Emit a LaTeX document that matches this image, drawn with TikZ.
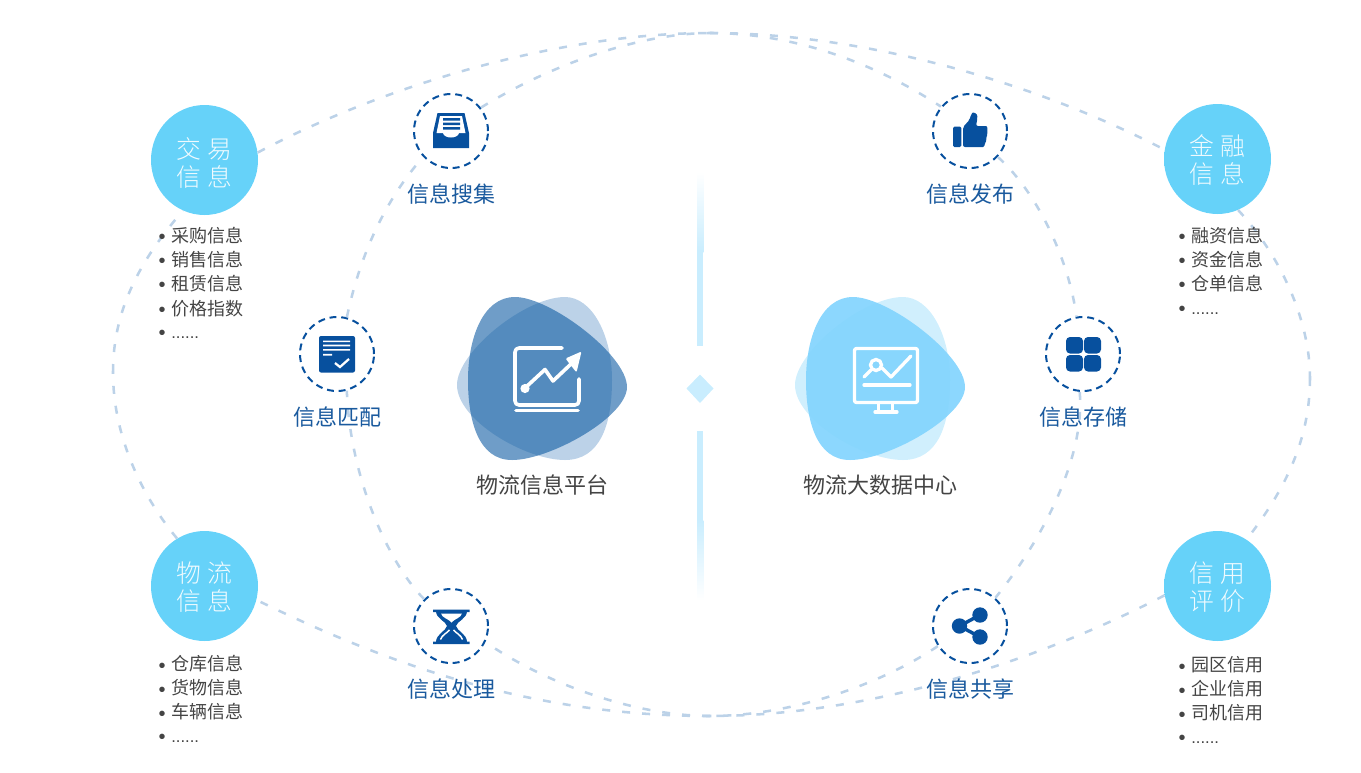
\documentclass[tikz,border=0pt]{standalone}
\usepackage{fontspec}
\usetikzlibrary{shapes.geometric}
\setmainfont{Noto Sans CJK SC}
\newfontfamily\latinf{Liberation Sans}
\newfontfamily\thincjk{Noto Sans CJK SC Light}
\definecolor{dashc}{HTML}{BCD2E8}
\definecolor{navy}{HTML}{07509E}
\definecolor{labelc}{HTML}{1A5A9E}
\definecolor{greyt}{HTML}{444444}
\definecolor{pale}{HTML}{C9EDFE}
\definecolor{bubin}{HTML}{66D2F9}
\definecolor{bubmid}{HTML}{BAEAFB}
\definecolor{bubout}{HTML}{C2EDFC}
\definecolor{blobdark}{RGB}{15,92,163}
\definecolor{blobsky}{RGB}{130,212,254}
\definecolor{blobpale}{RGB}{208,239,253}
\pgfdeclareradialshading{bubshade}{\pgfpoint{0bp}{0bp}}{
 color(0bp)=(bubin);
 color(33bp)=(bubin);
 color(44bp)=(bubmid);
 color(50bp)=(bubout);
 color(100bp)=(bubout)}
\tikzset{
 px/.style={x=0.75pt,y=-0.75pt},
 bubble/.style={ellipse,minimum width=80.25pt,minimum height=82.5pt,inner sep=0pt,shading=bubshade},
 bubtext/.style={text=white,text opacity=.9,align=center,inner sep=0pt,font=\thincjk\fontsize{18.6}{21}\selectfont},
 ring/.style={circle,minimum size=55.5pt,inner sep=0pt,draw=navy,line width=1.5pt,dash pattern=on 5.2pt off 3.6pt},
 link/.style={draw=dashc,line width=1.9pt,dash pattern=on 6pt off 9pt},
 label/.style={text=labelc,anchor=base,inner sep=0pt,font=\fontsize{16.5}{20}\selectfont},
 title/.style={text=greyt,anchor=base,inner sep=0pt,font=\fontsize{16.5}{20}\selectfont},
 item/.style={text=greyt,anchor=base west,inner sep=0pt,font=\fontsize{13.5}{16}\selectfont},
 dots/.style={text=greyt,anchor=base west,inner sep=0pt,font=\latinf\fontsize{12.5}{16}\selectfont},
 bulletmark/.style={text=greyt,anchor=base,inner sep=0pt,font=\latinf\fontsize{15}{16}\selectfont},
 wline/.style={draw=white,line width=2.7pt,line cap=round,line join=round},
}
\newcommand{\spaced}[2]{#1\hspace{4.5pt}#2}
\begin{document}
\begin{tikzpicture}[px]
\useasboundingbox (0,0) rectangle (1361,772);
% waypoints
\coordinate (top) at (710,33);
\coordinate (bot) at (710,716);
\coordinate (lft) at (113,372);
\coordinate (rgt) at (1310,378);
% big bubbles
\node[bubble] (jy) at (204.5,160) {};
\node[bubble] (jr) at (1217.5,159) {};
\node[bubble] (wl) at (204.5,586) {};
\node[bubble] (xy) at (1217.5,586) {};
\node[bubtext] (jyt) at (204.5,163) {\spaced{交}{易}\\\spaced{信}{息}};
\node[bubtext] (jrt) at (1217.5,160) {\spaced{金}{融}\\\spaced{信}{息}};
\node[bubtext] (wlt) at (204.5,587) {\spaced{物}{流}\\\spaced{信}{息}};
\node[bubtext] (xyt) at (1217.5,587) {\spaced{信}{用}\\\spaced{评}{价}};
% rings
\node[ring] (ss) at (451,131) {};
\node[ring] (fb) at (970,131) {};
\node[ring] (pp) at (337,354) {};
\node[ring] (cc) at (1083,354) {};
\node[ring] (cl) at (451,626) {};
\node[ring] (gx) at (970,626) {};
% connectors
\draw[link] (jy.8) .. controls (385,85) and (560,33) .. (top);
\draw[link] (top) .. controls (860,33) and (1030,80) .. (jr.170);
\draw[link] (jr.-68) .. controls (1280,255) and (1310,320) .. (rgt);
\draw[link] (rgt) .. controls (1310,440) and (1285,490) .. (xy.58);
\draw[link] (xy.190) .. controls (1040,660) and (870,716) .. (bot);
\draw[link] (bot) .. controls (540,716) and (400,670) .. (wl.-15);
\draw[link] (wl.120) .. controls (145,500) and (113,440) .. (lft);
\draw[link] (lft) .. controls (113,310) and (140,260) .. (jy.-113);
\draw[link] (ss.38) .. controls (550,65) and (640,33) .. (top);
\draw[link] (top) .. controls (790,33) and (870,60) .. (fb.140);
\draw[link] (fb.-43) .. controls (1040,195) and (1070,265) .. (cc.100);
\draw[link] (cc.-95) .. controls (1085,450) and (1050,530) .. (gx.48);
\draw[link] (gx.-148) .. controls (880,685) and (790,716) .. (bot);
\draw[link] (bot) .. controls (630,716) and (540,680) .. (cl.-25);
\draw[link] (cl.135) .. controls (390,565) and (350,480) .. (pp.-75);
\draw[link] (pp.75) .. controls (360,255) and (385,200) .. (ss.223);
% labels
\node[label] (l1) at (451,202) {信息搜集};
\node[label] (l2) at (970,202) {信息发布};
\node[label] (l3) at (337,425) {信息匹配};
\node[label] (l4) at (1083,425) {信息存储};
\node[label] (l5) at (451,697) {信息处理};
\node[label] (l6) at (970,697) {信息共享};
\node[title] (t1) at (542,493) {物流信息平台};
\node[title] (t2) at (880,493) {物流大数据中心};
% lists
\foreach \x/\y/\t [count=\i] in {171/242/采购信息,171/266/销售信息,171/290/租赁信息,171/315/价格指数,
  171/670.5/仓库信息,171/694.5/货物信息,171/718.5/车辆信息,
  1191/242/融资信息,1191/266/资金信息,1191/290/仓单信息,
  1191/671.5/园区信用,1191/695.5/企业信用,1191/719.5/司机信用}{
  \node[item] (it\i) at (\x,\y) {\t};
  \node[bulletmark] (bu\i) at (\x-9,\y+1.5) {•};
}
\foreach \x/\y [count=\i] in {171/338,171/742,1191/314,1191/743}{
  \node[dots] (dt\i) at (\x,\y) {......};
  \node[bulletmark] (bd\i) at (\x-9,\y+1) {•};
}
% divider
\shade[top color=white,bottom color=pale,draw=none] (697,172) rectangle (703.4,252);
\fill[pale] (697,250) rectangle (703.4,346);
\fill[pale] (697,431) rectangle (703.4,522);
\shade[top color=pale,bottom color=white,draw=none] (697,520) rectangle (703.4,600);
\fill[pale] (700,374.5) -- (713.5,388.5) -- (700,403) -- (686.5,388.5) -- cycle;
% blobs
\fill[dashc] (565,297) .. controls (592,297) and (612,335) .. (612,380)
  .. controls (612,425) and (600,460) .. (565,460) .. controls (525,460) and (457,420) .. (457,385)
  .. controls (457,352) and (525,297) .. (565,297) -- cycle;
\fill[blobdark,opacity=.6] (515,297) .. controls (550,297) and (627,355) .. (627,387)
  .. controls (627,417) and (550,460) .. (512,460) .. controls (478,460) and (468,420) .. (468,380)
  .. controls (468,340) and (482,297) .. (515,297) -- cycle;
\fill[blobpale] (903,297) .. controls (930,297) and (950,335) .. (950,380)
  .. controls (950,425) and (938,460) .. (903,460) .. controls (863,460) and (795,420) .. (795,385)
  .. controls (795,352) and (863,297) .. (903,297) -- cycle;
\fill[blobsky,opacity=.92] (853,297) .. controls (888,297) and (965,355) .. (965,387)
  .. controls (965,417) and (888,460) .. (850,460) .. controls (816,460) and (806,420) .. (806,380)
  .. controls (806,340) and (820,297) .. (853,297) -- cycle;
% chart icon
\draw[wline,rounded corners=3pt] (562,348) -- (515,348) -- (515,405) -- (579,405) -- (579,379);
\draw[wline] (516,410.5) -- (578,410.5);
\draw[wline] (525,388) -- (545,369.5) -- (553,381) -- (571,364);
\fill[white] (525,388.5) circle[radius=4.6];
\fill[white,rounded corners=1pt] (581.5,351.5) -- (576.5,372.5) -- (565.5,358.5) -- cycle;
% monitor icon
\draw[wline,line width=2.5pt,rounded corners=1.5pt] (854.5,348.5) rectangle (917.5,402.5);
\draw[wline,line width=2.5pt] (864,385) -- (910,385);
\draw[wline,line width=2.5pt] (864,377) -- (871,370);
\draw[wline,line width=2.5pt] (882,368) -- (891,377) -- (911,356);
\draw[white,line width=2.5pt] (876,365) circle[radius=5.5];
\draw[white,line width=2.5pt] (878.5,402.5) -- (878.5,412) (892.5,402.5) -- (892.5,412);
\draw[wline,line width=2.5pt] (875,412) -- (897,412);
% inbox icon
\fill[navy] (433,148) -- (433,133) -- (437.5,113) -- (464.5,113) -- (469,133) -- (469,148) -- cycle;
\fill[white] (440,116) -- (462,116) -- (465.5,133) -- (459,133) .. controls (458,139) and (444,139) .. (443,133) -- (436.5,133) -- cycle;
\fill[navy] (443,118) rectangle (460,120.5) (443,122.5) rectangle (460,125) (443,127) rectangle (460,129.5);
% thumb icon
\fill[navy,rounded corners=1pt] (953,126.7) rectangle (961.3,147);
\fill[navy,rounded corners=1.5pt] (963,127) -- (969.5,120) -- (971,114.5) .. controls (973,112) and (977,113) .. (977.5,118) -- (976,126) -- (984,126) .. controls (987,126) and (987.5,128) .. (986.5,130) .. controls (987.5,132) and (987,135) .. (985.5,136) .. controls (986.5,138) and (986,141) .. (984.5,142) .. controls (985,145) and (984,147) .. (981,147) -- (963,147) -- cycle;
% document icon
\fill[navy,rounded corners=1.5pt] (319,336) rectangle (355,372.5);
\fill[white] (323,340.5) rectangle (350,342.2) (323,344.7) rectangle (350,346.4) (323,349) rectangle (350,350.7) (323,353.8) rectangle (332,355.5);
\draw[white,line width=1.7pt] (335,363) -- (340,367) -- (349,359);
% grid icon
\foreach \gx/\gy in {1066/337,1084/337,1066/355,1084/355}{
  \fill[navy,rounded corners=3pt] (\gx,\gy) rectangle ++(17,16.5);
}
% hourglass icon
\fill[navy] (433,609.7) rectangle (469.7,612) (433,641.7) rectangle (469.7,644);
\fill[navy] (436,611) -- (467,611) .. controls (467,619) and (457,621) .. (456,626) .. controls (457,631) and (467,634) .. (467,642) -- (436,642) .. controls (436,634) and (446,631) .. (447,626) .. controls (446,621) and (436,619) .. (436,611) -- cycle;
\fill[white] (441,613.5) -- (462,613.5) .. controls (461,618) and (454,619) .. (451.5,622.5) .. controls (449,619) and (442,618) .. (441,613.5) -- cycle;
\draw[white,line width=1.1pt] (449.5,630) .. controls (447,633) and (442,635) .. (440.5,639.5);
\draw[white,line width=1.1pt] (453.5,630) .. controls (456,633) and (461,635) .. (462.5,639.5);
% share icon
\draw[navy,line width=2.6pt] (980,615) -- (959.5,626) -- (980,637);
\fill[navy] (980,615) circle[radius=7.7] (980,637) circle[radius=7.7] (959.5,626) circle[radius=7.7];
\end{tikzpicture}
\end{document}
